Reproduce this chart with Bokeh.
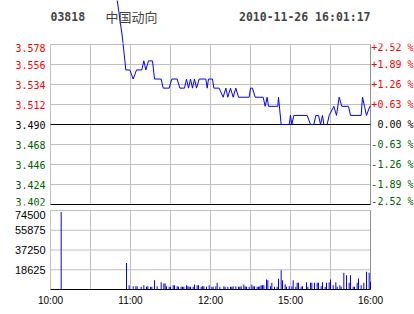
from bokeh.plotting import figure
from bokeh.layouts import column
from bokeh.models import Range1d, FixedTicker, Label, ColumnDataSource
from bokeh.core.properties import value
from bokeh.embed import file_html
from bokeh.resources import INLINE

# ---------------- data ----------------
stock_code = "03818"
stock_name = "中国动向"
stamp = "2010-11-26 16:01:17"
prev_close = 3.490

# trading-minute index: 0 = 10:00, 150 = 12:30 / 14:30, 240 = 16:00
time_ticks = [0, 60, 120, 180, 240]
time_labels = ["10:00", "11:00", "12:00", "15:00", "16:00"]
grid_minutes = [0, 30, 60, 90, 120, 150, 180, 210]

price_levels = [3.578, 3.556, 3.534, 3.512, 3.490, 3.468, 3.446, 3.424, 3.402]
price_labels = ["3.578", "3.556", "3.534", "3.512", "3.490", "3.468", "3.446", "3.424", "3.402"]
pct_labels = ["+2.52 %", "+1.89 %", "+1.26 %", "+0.63 %", "0.00 %",
              "-0.63 %", "-1.26 %", "-1.89 %", "-2.52 %"]

vol_ticks = [74500, 55875, 37250, 18625]
vol_labels = ["74500", "55875", "37250", "18625"]

price_t = [45, 50, 54, 56.5, 59.5, 62, 64.5, 68.5, 70, 71.5, 73.5, 76.5, 78, 83, 84.5,
           89, 91, 95, 97, 100.5, 102, 103.5, 105, 106.5, 108, 109.5, 111.5, 116.5,
           117.5, 118.5, 121.5, 122.5, 126.5, 129.5, 131.5, 133, 135, 137, 139, 141,
           149, 150, 151.5, 153.5, 159.5, 161, 162.5, 163.5, 170.5, 171, 173, 179,
           180, 181, 182.5, 192.5, 195, 197.5, 199, 201, 202.5, 204, 205, 207.5, 209,
           212.5, 214.5, 216.5, 218.5, 223.5, 225, 233, 234, 235.5, 237, 239.5, 240]
price_v = [3.670, 3.627, 3.585, 3.55, 3.55, 3.54, 3.55, 3.55, 3.56, 3.55, 3.56, 3.56, 3.54, 3.54, 3.53,
           3.53, 3.54, 3.54, 3.53, 3.53, 3.54, 3.53, 3.54, 3.53, 3.54, 3.53, 3.54, 3.54,
           3.53, 3.54, 3.54, 3.53, 3.53, 3.52, 3.53, 3.52, 3.53, 3.52, 3.53, 3.52,
           3.52, 3.53, 3.53, 3.52, 3.52, 3.51, 3.52, 3.51, 3.51, 3.52, 3.49, 3.49,
           3.50, 3.49, 3.50, 3.50, 3.49, 3.49, 3.50, 3.50, 3.49, 3.50, 3.49, 3.49, 3.50,
           3.51, 3.50, 3.52, 3.51, 3.51, 3.50, 3.50, 3.52, 3.51, 3.50, 3.51, 3.51]

vol_t = [8, 57, 59, 62, 64, 65, 68, 70, 72, 73, 75, 76, 78, 80, 83, 85, 86, 87, 89, 90,
         92, 93, 95, 96, 98, 99, 100, 102, 103, 104, 105, 107, 108, 110, 111, 113, 114,
         115, 117, 119, 121, 122, 124, 125, 127, 130, 131, 133, 135, 136, 137, 139, 141,
         142, 143, 145, 146, 147, 149, 151, 152, 153, 155, 156, 157, 158, 159, 160, 162,
         163, 165, 166, 168, 170, 171, 173, 174, 176, 177, 179, 181, 182, 184, 185, 186,
         188, 189, 192, 193, 195, 196, 198, 200, 201, 203, 204, 206, 207, 209, 210, 212,
         214, 215, 217, 218, 220, 222, 224, 225, 227, 228, 230, 231, 233, 235, 237, 239, 240]
vol_v = [73000, 25000, 4100, 3100, 3100, 3100, 2500, 4100, 2500, 3100, 2500, 2500, 8800, 3100,
         6900, 5700, 5700, 3100, 2500, 2500, 4100, 4100, 3100, 2500, 2500, 2500, 2500, 4100,
         3100, 2500, 2500, 2500, 4700, 4100, 4100, 2500, 3100, 3100, 2500, 4100, 2500, 2500,
         3100, 6300, 2500, 3100, 2500, 2500, 2500, 2500, 3100, 3100, 2500, 2500, 3100, 4700,
         3100, 2500, 2500, 4700, 3100, 3100, 2500, 2500, 3100, 4100, 4100, 4100, 9400, 8800,
         3100, 6300, 2500, 2500, 10100, 18200, 8800, 5000, 2500, 3100, 3100, 8800, 2500, 6300,
         6300, 2500, 3100, 6900, 2500, 6300, 6300, 6300, 6300, 6300, 3100, 6900, 2500, 6300,
         6900, 9400, 4100, 6900, 2500, 4100, 2500, 15700, 13500, 6300, 13500, 2500, 2500,
         6300, 10400, 4100, 6300, 16700, 15700, 7200]

# ---------------- layout / styling ----------------
W = 414
BL, BR = 50, 44                 # pixels left / right of the plotting panels
PANEL_W = 320
GRID = "#C0C0C0"
EDGE = "#909090"
RED = "#FF0000"
GREEN = "#006000"
BLUE = "#0000FF"
MONO = "DejaVu Sans Mono"
SANS = "Liberation Sans"

t0, t1 = time_ticks[0], time_ticks[-1]
mpp = (t1 - t0) / PANEL_W        # minutes per pixel
xr = Range1d(t0 - BL * mpp, t1 + BR * mpp)

p_hi, p_lo = price_levels[0], price_levels[-1]
PRICE_H = 160
ppx = (p_hi - p_lo) / PRICE_H    # price per pixel
VOL_H = 79
vpx = vol_ticks[0] / VOL_H       # volume per pixel


def level_color(v):
    if v > prev_close + 1e-9:
        return RED
    if v < prev_close - 1e-9:
        return GREEN
    return "black"


price_src = ColumnDataSource(dict(t=price_t, p=price_v))
vol_src = ColumnDataSource(dict(t=vol_t, v=vol_v))

common = dict(width=W, x_range=xr, toolbar_location=None, output_backend="svg",
              min_border_left=0, min_border_right=0, outline_line_color=None,
              background_fill_color="white", border_fill_color="white")


def hlines(fig, ys, color):
    fig.segment(x0=[t0] * len(ys), x1=[t1] * len(ys), y0=ys, y1=ys,
                line_color=color, line_width=1)


def vlines(fig, xs, y0, y1, color):
    fig.segment(x0=xs, x1=xs, y0=[y0] * len(xs), y1=[y1] * len(xs),
                line_color=color, line_width=1)


# --- title strip (price line continues up through it) ---
top = figure(height=43, y_range=Range1d(p_hi + ppx, p_hi + 44 * ppx),
             x_axis_location=None, y_axis_location=None,
             min_border_top=0, min_border_bottom=0, **common)
top.grid.visible = False
top.line("t", "p", source=price_src, line_color=BLUE, line_width=1)
top.add_layout(Label(x=t0, y=27, y_units="screen", text=stock_code, text_font=MONO,
                     text_font_style="bold", text_font_size="11.5px",
                     text_align="left", text_baseline="middle"))
top.add_layout(Label(x=t0, x_offset=55, y=27, y_units="screen", text=stock_name,
                     text_font="Noto Sans CJK SC", text_font_size="13px",
                     text_align="left", text_baseline="middle"))
top.add_layout(Label(x=t1, y=27, y_units="screen", text=stamp, text_font=MONO,
                     text_font_style="bold", text_font_size="11.5px",
                     text_align="right", text_baseline="middle"))

# --- price panel ---
pp = figure(height=PRICE_H + 2 + 4, y_range=Range1d(p_lo - ppx, p_hi + ppx),
            x_axis_location=None, y_axis_location=None,
            min_border_top=0, min_border_bottom=4, **common)
pp.grid.visible = False
vlines(pp, grid_minutes, p_lo, p_hi, GRID)
hlines(pp, [v for v in price_levels if abs(v - prev_close) > 1e-9 and v != p_lo], GRID)
vlines(pp, [t1], p_lo, p_hi, EDGE)
hlines(pp, [prev_close, p_lo], "black")
pp.line("t", "p", source=price_src, line_color=BLUE, line_width=1)

n = len(price_levels)
yoff = [3 if i == 0 else (-3 if i == n - 1 else 0) for i in range(n)]
lab_src = ColumnDataSource(dict(
    xl=[t0] * n, xr=[t1] * n, y=price_levels, lt=price_labels, pt=pct_labels,
    c=[level_color(v) for v in price_levels], yo=yoff))
pp.text(x="xl", y="y", text="lt", text_color="c", x_offset=-5, y_offset="yo",
        source=lab_src, text_font=value(MONO), text_font_size=value("10px"),
        text_align="right", text_baseline="middle")
pp.text(x="xr", y="y", text="pt", text_color="c", x_offset=43, y_offset="yo",
        source=lab_src, text_font=value(MONO), text_font_size=value("10px"),
        text_align="right", text_baseline="middle")

# --- volume panel ---
vp = figure(height=VOL_H + 1 + 25, y_range=Range1d(0, vol_ticks[0] + vpx),
            y_axis_location=None, min_border_top=0, min_border_bottom=25, **common)
vp.grid.visible = False
vlines(vp, grid_minutes, 0, vol_ticks[0], GRID)
hlines(vp, vol_ticks, GRID)
vlines(vp, [t1], 0, vol_ticks[0], EDGE)
vp.vbar(x="t", top="v", width=0.75, source=vol_src, fill_color=BLUE, line_color=None)

m = len(vol_ticks)
vlab_src = ColumnDataSource(dict(x=[t0] * m, y=vol_ticks, t=vol_labels,
                                 yo=[4 if i == 0 else 0 for i in range(m)]))
vp.text(x="x", y="y", text="t", x_offset=-5, y_offset="yo", source=vlab_src,
        text_color="black", text_font=value(SANS), text_font_size=value("11px"),
        text_align="right", text_baseline="middle")

ax = vp.xaxis[0]
ax.ticker = FixedTicker(ticks=time_ticks)
ax.major_label_overrides = {t: l for t, l in zip(time_ticks, time_labels)}
ax.bounds = (t0, t1)
ax.axis_line_color = "black"
ax.major_tick_line_color = None
ax.minor_tick_line_color = None
ax.major_tick_out = 0
ax.major_label_standoff = 5
ax.major_label_text_font = SANS
ax.major_label_text_font_size = "10px"
ax.major_label_text_color = "black"

p = column(top, pp, vp, spacing=0)
open("out.html", "w").write(file_html(p, INLINE))
